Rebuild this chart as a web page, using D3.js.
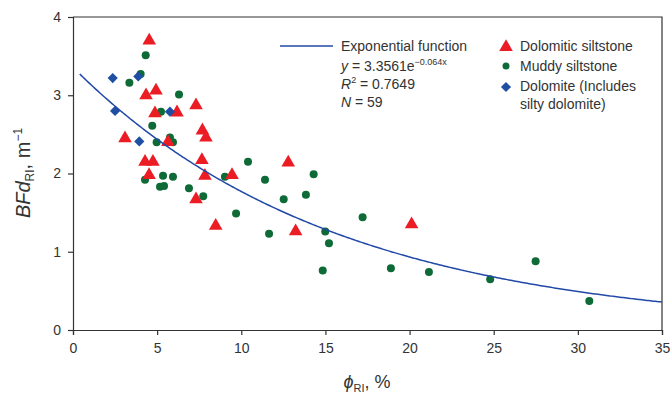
<!DOCTYPE html>
<html>
<head>
<meta charset="utf-8">
<script src="https://cdn.jsdelivr.net/npm/d3@7"></script>
<style>
  html, body { margin: 0; padding: 0; background: #fff; }
  svg text { font-family: "Liberation Sans", Arial, Helvetica, sans-serif; fill: #333; }
</style>
</head>
<body>
<svg id="chart" width="670" height="401"></svg>
<script>
// Porosity (%) and bedding-fracture density (m^-1) for each lithology
const dolomiticX = [4.53, 4.34, 4.93, 4.87, 6.18, 7.31, 3.09, 7.69, 7.90, 5.64, 4.28,
                    4.75, 7.66, 4.52, 7.84, 9.45, 7.31, 8.48, 12.79, 13.23, 20.12];
const dolomiticY = [3.70, 3.00, 3.06, 2.77, 2.78, 2.87, 2.45, 2.55, 2.46, 2.40, 2.15,
                    2.15, 2.17, 1.98, 1.97, 1.98, 1.67, 1.33, 2.14, 1.26, 1.35];

const muddyX = [4.32, 4.02, 3.35, 6.30, 5.23, 4.71, 4.97, 5.76, 5.94, 5.35, 5.94,
                10.40, 9.03, 11.41, 4.28, 5.17, 5.41, 6.89, 7.74, 9.69, 12.52, 13.84,
                14.30, 11.65, 14.99, 15.21, 17.21, 14.84, 18.89, 21.15, 24.79, 27.49, 30.68];
const muddyY = [3.51, 3.27, 3.16, 3.01, 2.79, 2.61, 2.40, 2.46, 2.40, 1.97, 1.96,
                2.15, 1.96, 1.92, 1.92, 1.83, 1.84, 1.81, 1.71, 1.49, 1.67, 1.73,
                1.99, 1.23, 1.26, 1.11, 1.44, 0.76, 0.79, 0.74, 0.65, 0.88, 0.37];

const dolomiteX = [2.36, 3.88, 2.50, 5.76, 3.94];
const dolomiteY = [3.22, 3.24, 2.80, 2.79, 2.41];

// Fitted trend: y = a * exp(b * x)
const fitA = 3.3561;
const fitB = -0.064;
const fitRange = [0.4, 35];

const xTicks = [0, 5, 10, 15, 20, 25, 30, 35];
const yTicks = [0, 1, 2, 3, 4];

const colors = { dolomitic: "#ec1c24", muddy: "#0e6a36", dolomite: "#1e4fa3", fit: "#2249a8", axis: "#333" };

const svg = d3.select("#chart");
const m = { left: 73, top: 17, right: 8, bottom: 71 };
const W = 670 - m.left - m.right;
const H = 401 - m.top - m.bottom;

const x = d3.scaleLinear().domain([0, 35]).range([0, W]);
const y = d3.scaleLinear().domain([0, 4]).range([H, 0]);

const g = svg.append("g").attr("transform", `translate(${m.left},${m.top})`);

// Frame (top and right sides)
g.append("path")
  .attr("d", `M0,0H${W}V${H}`)
  .attr("fill", "none").attr("stroke", colors.axis).attr("stroke-width", 1.2);

// Axes
const xAxis = g.append("g").attr("transform", `translate(0,${H})`)
  .call(d3.axisBottom(x).tickValues(xTicks).tickSize(5).tickPadding(8).tickFormat(d3.format("d")));
const yAxis = g.append("g")
  .call(d3.axisLeft(y).tickValues(yTicks).tickSize(5).tickPadding(7).tickFormat(d3.format("d")));
[xAxis, yAxis].forEach(a => {
  a.select(".domain").attr("stroke", colors.axis).attr("stroke-width", 1.2);
  a.selectAll(".tick line").attr("stroke", colors.axis).attr("stroke-width", 1.2);
  a.selectAll(".tick text").attr("font-size", 14).attr("fill", "#333")
   .style("font-family", "'Liberation Sans', Arial, sans-serif");
});

// Markers
const pts = (xs, ys) => xs.map((v, i) => [v, ys[i]]);

g.append("g").selectAll("circle")
  .data(pts(muddyX, muddyY)).join("circle")
  .attr("cx", d => x(d[0])).attr("cy", d => y(d[1])).attr("r", 4)
  .attr("fill", colors.muddy);

const tri = d3.symbol().type(d3.symbolTriangle).size(80);
g.append("g").selectAll("path")
  .data(pts(dolomiticX, dolomiticY)).join("path")
  .attr("d", tri)
  .attr("transform", d => `translate(${x(d[0])},${y(d[1])})`)
  .attr("fill", colors.dolomitic);

// Diamond = square turned by 45 degrees
const dia = d3.symbol().type(d3.symbolSquare).size(52);
g.append("g").selectAll("path")
  .data(pts(dolomiteX, dolomiteY)).join("path")
  .attr("d", dia)
  .attr("transform", d => `translate(${x(d[0])},${y(d[1])}) rotate(45)`)
  .attr("fill", colors.dolomite);

// Exponential fit curve
const curveX = d3.range(fitRange[0], fitRange[1] + 0.001, 0.1);
g.append("path")
  .datum(curveX)
  .attr("d", d3.line().x(d => x(d)).y(d => y(fitA * Math.exp(fitB * d))))
  .attr("fill", "none").attr("stroke", colors.fit).attr("stroke-width", 1.5);

// Axis titles
const yl = svg.append("text")
  .attr("transform", "translate(30,173) rotate(-90)")
  .attr("text-anchor", "middle").attr("font-size", 20);
yl.append("tspan").attr("font-style", "italic").text("BFd");
yl.append("tspan").attr("font-size", 12).attr("dy", 4).text("RI");
yl.append("tspan").attr("dy", -4).text(", m");
yl.append("tspan").attr("font-size", 12).attr("dy", -8).text("\u22121");

const xl = svg.append("text")
  .attr("x", 367).attr("y", 388)
  .attr("text-anchor", "middle").attr("font-size", 18);
xl.append("tspan").attr("font-style", "italic").text("\u03d5");
xl.append("tspan").attr("font-size", 11).attr("dy", 4).text("RI");
xl.append("tspan").attr("dy", -4).text(", %");

// Legend
const lg = svg.append("g").attr("font-size", 14);
lg.append("line").attr("x1", 280).attr("x2", 333).attr("y1", 46).attr("y2", 46)
  .attr("stroke", colors.fit).attr("stroke-width", 1.5);
lg.append("text").attr("x", 341).attr("y", 51).text("Exponential function");

const eq = lg.append("text").attr("x", 341).attr("y", 71);
eq.append("tspan").attr("font-style", "italic").text("y");
eq.append("tspan").text(" = 3.3561e");
eq.append("tspan").attr("font-size", 9).attr("dy", -6).text("\u22120.064x");

const r2 = lg.append("text").attr("x", 341).attr("y", 89);
r2.append("tspan").attr("font-style", "italic").text("R");
r2.append("tspan").attr("font-size", 9).attr("dy", -6).text("2");
r2.append("tspan").attr("dy", 6).text(" = 0.7649");

const nn = lg.append("text").attr("x", 341).attr("y", 107);
nn.append("tspan").attr("font-style", "italic").text("N");
nn.append("tspan").text(" = 59");

lg.append("path").attr("d", tri).attr("transform", "translate(506,47)").attr("fill", colors.dolomitic);
lg.append("text").attr("x", 520).attr("y", 51).text("Dolomitic siltstone");
lg.append("circle").attr("cx", 506).attr("cy", 66).attr("r", 3.5).attr("fill", colors.muddy);
lg.append("text").attr("x", 520).attr("y", 71).text("Muddy siltstone");
lg.append("path").attr("d", dia).attr("transform", "translate(506,87) rotate(45)").attr("fill", colors.dolomite);
lg.append("text").attr("x", 520).attr("y", 91).text("Dolomite (Includes");
lg.append("text").attr("x", 520).attr("y", 109).text("silty dolomite)");
</script>
</body>
</html>
